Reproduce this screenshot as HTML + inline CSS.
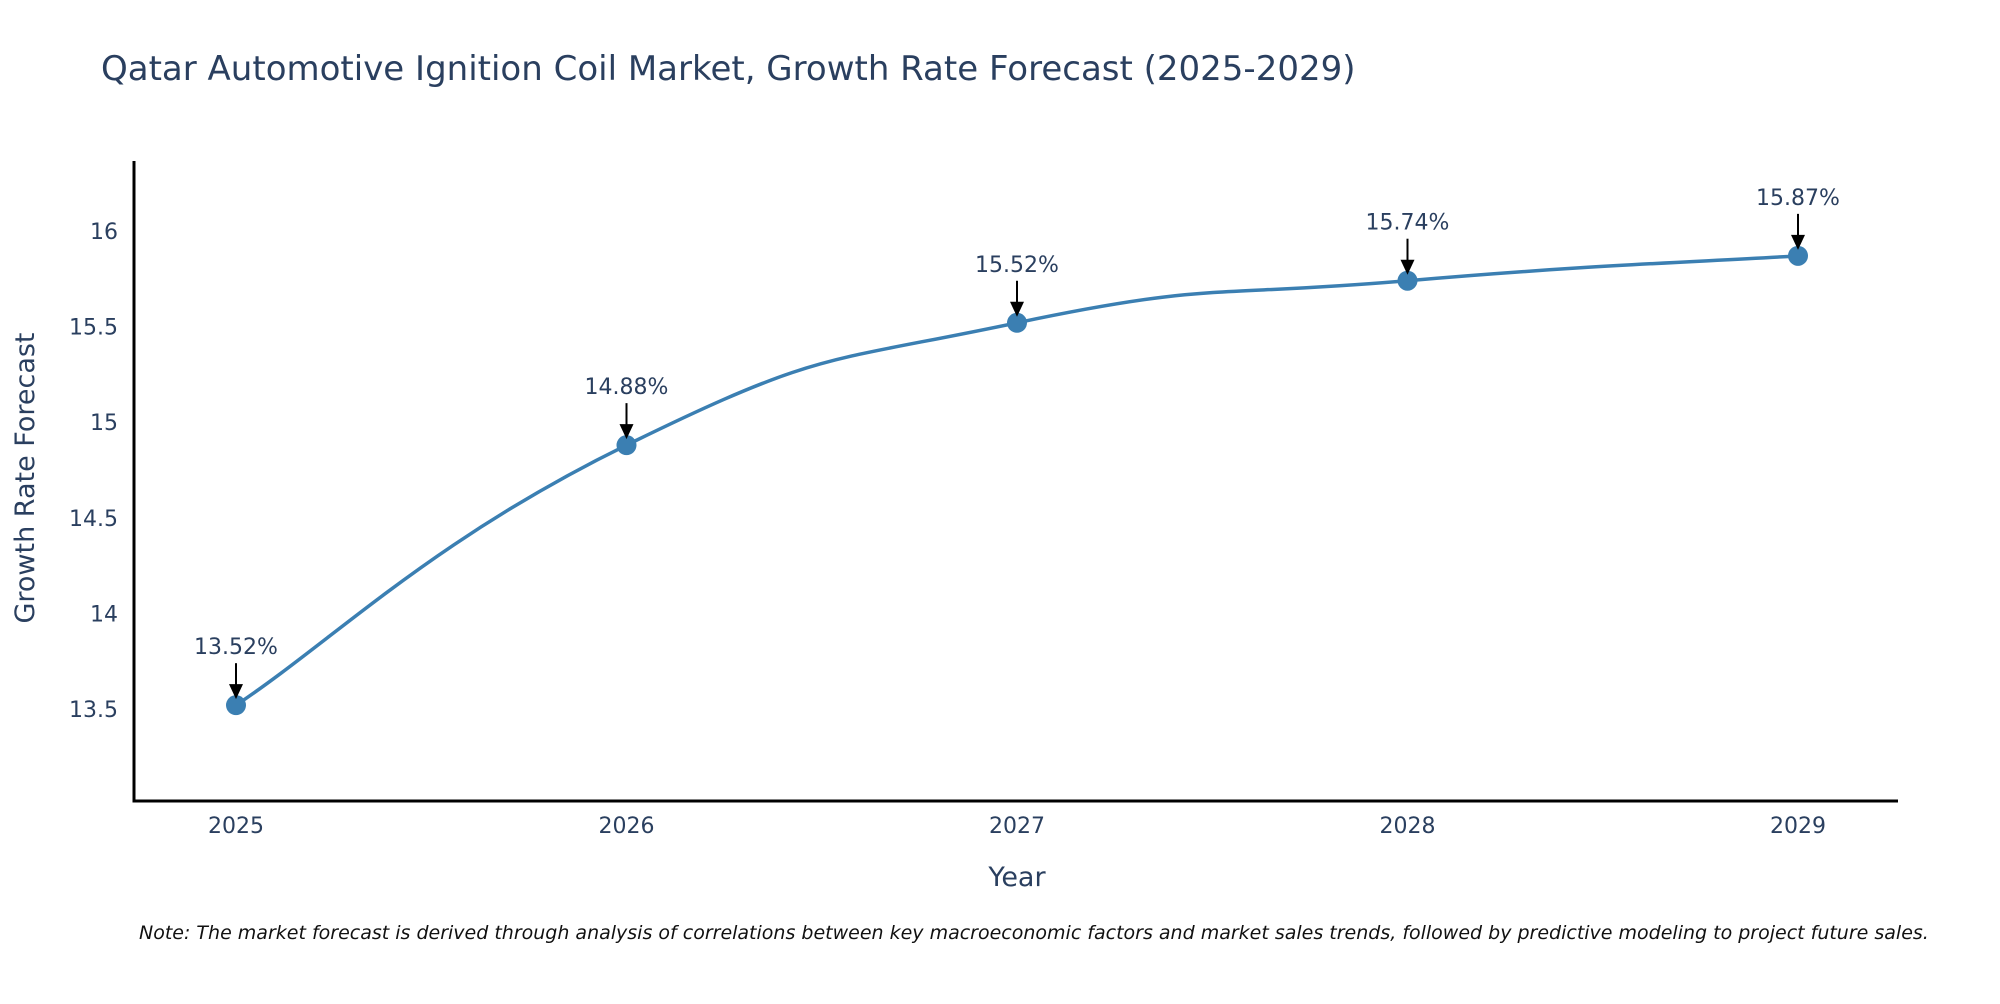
<!DOCTYPE html>
<html><head><meta charset="utf-8"><style>
body{margin:0;background:#fff;width:2000px;height:1000px;overflow:hidden;font-family:"DejaVu Sans","Liberation Sans",sans-serif}
svg text{font-family:"DejaVu Sans","Liberation Sans",sans-serif}
</style></head><body>
<svg id="chart" width="2000" height="1000" xmlns="http://www.w3.org/2000/svg">
<text x="101" y="80" font-size="34" fill="#2a3f5f">Qatar Automotive Ignition Coil Market, Growth Rate Forecast (2025-2029)</text>
<g id="axes"></g>
<g id="series"></g>
<text transform="translate(34,478) rotate(-90)" text-anchor="middle" font-size="27" fill="#2a3f5f">Growth Rate Forecast</text>
<text x="1017" y="886" text-anchor="middle" font-size="27" fill="#2a3f5f">Year</text>
<text x="139" y="939" font-size="19" font-style="italic" fill="#111">Note: The market forecast is derived through analysis of correlations between key macroeconomic factors and market sales trends, followed by predictive modeling to project future sales.</text>
</svg>
<script>
const years=[2025,2026,2027,2028,2029];
const values=[13.52,14.88,15.52,15.74,15.87];
const yTicks=[13.5,14,14.5,15,15.5,16];
const NS="http://www.w3.org/2000/svg";
const X0=134,XR=1898,YB=801,YT=161;
function xs(v){return 236+(v-2025)*(1798-236)/4;}
function ys(v){return 709-(v-13.5)*(709-231)/2.5;}
function mk(t,a,p){const e=document.createElementNS(NS,t);for(const k in a)e.setAttribute(k,a[k]);(p||document.getElementById('chart')).appendChild(e);return e;}
const ax=document.getElementById('axes'),se=document.getElementById('series');
let yl=mk('line',{x1:X0,y1:YT,x2:X0,y2:YB+1.5,stroke:'#000','stroke-width':3},ax);


let xl=mk('line',{x1:X0-1.5,y1:YB,x2:XR,y2:YB,stroke:'#000','stroke-width':3},ax);


yTicks.forEach(t=>{const e=mk('text',{x:118,y:ys(t)+8,'text-anchor':'end','font-size':22,fill:'#2a3f5f'},ax);e.textContent=String(t);

});
years.forEach(t=>{const e=mk('text',{x:xs(t),y:833,'text-anchor':'middle','font-size':22,fill:'#2a3f5f'},ax);e.textContent=String(t);

});
const pts=years.map((y,i)=>[xs(y),ys(values[i])]);
let d='M'+pts[0][0]+','+pts[0][1];const s=0.25;
for(let i=0;i<pts.length-1;i++){const p0=pts[Math.max(0,i-1)],p1=pts[i],p2=pts[i+1],p3=pts[Math.min(pts.length-1,i+2)];
const c1=[p1[0]+(p2[0]-p0[0])*s,p1[1]+(p2[1]-p0[1])*s],c2=[p2[0]-(p3[0]-p1[0])*s,p2[1]-(p3[1]-p1[1])*s];
d+=` C${c1[0]},${c1[1]} ${c2[0]},${c2[1]} ${p2[0]},${p2[1]}`;}
const line=mk('path',{d:d,fill:'none',stroke:'#3b7fb2','stroke-width':3.5},se);


pts.forEach((p,i)=>{const c=mk('circle',{cx:p[0],cy:p[1],r:10,fill:'#3b7fb2'},se);


const a=mk('line',{x1:p[0],y1:p[1]-42,x2:p[0],y2:p[1]-20,stroke:'#000','stroke-width':2},se);


const h=mk('polygon',{points:`${p[0]-7},${p[1]-21} ${p[0]+7},${p[1]-21} ${p[0]},${p[1]-6}`,fill:'#000'},se);


const t=mk('text',{x:p[0],y:p[1]-51,'text-anchor':'middle','font-size':22,fill:'#2a3f5f'},se);t.textContent=values[i].toFixed(2)+'%';

});
</script>
</body></html>
